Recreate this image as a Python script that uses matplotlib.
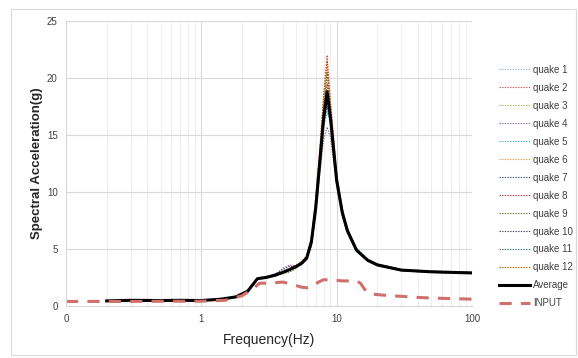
import matplotlib
matplotlib.use("Agg")
from matplotlib import pyplot as plt
from matplotlib.patches import Rectangle
from matplotlib.ticker import FixedLocator, NullFormatter, LogLocator

plt.rcParams['font.family'] = ['Liberation Sans', 'DejaVu Sans']

freq = [0.2, 0.3, 0.5, 0.7, 1.0, 1.4, 1.8, 2.2, 2.6, 3.0, 3.5, 4.0, 4.5, 5.0, 5.5, 6.0,
        6.5, 7.0, 7.5, 8.0, 8.5, 9.0, 10, 11, 12, 14, 17, 20, 30, 50, 100]

quakes = {
    'quake 1': [0.44, 0.51, 0.47, 0.5, 0.47, 0.6, 0.82, 1.3, 2.3, 2.5, 2.6, 2.9, 3.3, 3.4, 3.7, 4.1, 5.4, 8.2, 11.8, 15.5, 17.5, 15.8, 11.2, 8.4, 6.8, 5.0, 4.1, 3.6, 3.1, 2.95, 2.85],
    'quake 2': [0.46, 0.5, 0.49, 0.52, 0.5, 0.62, 0.8, 1.35, 2.45, 2.6, 2.8, 3.0, 3.3, 3.6, 3.9, 4.4, 6.0, 9.4, 13.8, 18.5, 22.0, 18.0, 11.6, 8.5, 6.8, 5.0, 4.1, 3.7, 3.2, 3.05, 2.95],
    'quake 3': [0.45, 0.5, 0.48, 0.5, 0.49, 0.6, 0.8, 1.3, 2.4, 2.5, 2.7, 2.8, 3.0, 3.3, 3.8, 4.3, 5.8, 8.9, 13.0, 17.5, 20.5, 17.0, 11.0, 8.1, 6.5, 4.8, 3.95, 3.55, 3.1, 2.95, 2.9],
    'quake 4': [0.44, 0.49, 0.47, 0.49, 0.47, 0.58, 0.78, 1.25, 2.35, 2.45, 2.75, 3.3, 3.6, 3.5, 3.6, 4.0, 5.2, 8.0, 11.5, 14.5, 15.7, 14.8, 10.6, 7.9, 6.4, 4.8, 3.95, 3.55, 3.1, 2.95, 2.85],
    'quake 5': [0.45, 0.5, 0.48, 0.5, 0.48, 0.6, 0.8, 1.3, 2.4, 2.5, 2.6, 2.9, 3.1, 3.4, 3.7, 4.1, 5.4, 8.3, 12.0, 15.8, 17.0, 16.2, 11.5, 8.6, 6.9, 5.1, 4.1, 3.7, 3.2, 3.0, 2.9],
    'quake 6': [0.46, 0.51, 0.49, 0.51, 0.49, 0.61, 0.82, 1.32, 2.45, 2.55, 2.75, 3.0, 3.25, 3.5, 3.9, 4.4, 5.9, 9.2, 13.3, 17.8, 21.0, 17.5, 11.4, 8.5, 6.8, 5.0, 4.1, 3.7, 3.2, 3.05, 2.95],
    'quake 7': [0.45, 0.5, 0.48, 0.5, 0.48, 0.6, 0.8, 1.3, 2.4, 2.5, 2.7, 2.95, 3.2, 3.45, 3.75, 4.2, 5.6, 8.6, 12.5, 16.3, 18.5, 16.4, 11.0, 8.2, 6.6, 4.9, 4.0, 3.6, 3.15, 3.0, 2.9],
    'quake 8': [0.45, 0.5, 0.48, 0.5, 0.48, 0.6, 0.8, 1.3, 2.4, 2.55, 2.7, 3.0, 3.2, 3.5, 3.8, 4.3, 5.7, 8.8, 12.8, 17.0, 19.5, 16.8, 11.1, 8.2, 6.6, 4.9, 4.0, 3.6, 3.15, 3.0, 2.9],
    'quake 9': [0.45, 0.5, 0.48, 0.5, 0.48, 0.6, 0.8, 1.3, 2.4, 2.5, 2.65, 2.85, 3.0, 3.3, 3.7, 4.2, 5.7, 8.9, 13.0, 17.4, 20.5, 17.2, 11.2, 8.3, 6.6, 4.9, 4.0, 3.6, 3.15, 3.0, 2.9],
    'quake 10': [0.44, 0.5, 0.47, 0.5, 0.48, 0.6, 0.79, 1.28, 2.38, 2.48, 2.8, 3.2, 3.5, 3.4, 3.65, 4.1, 5.5, 8.5, 12.3, 16.0, 18.0, 16.0, 10.9, 8.1, 6.5, 4.85, 3.95, 3.55, 3.1, 2.95, 2.9],
    'quake 11': [0.45, 0.5, 0.48, 0.5, 0.48, 0.6, 0.8, 1.3, 2.4, 2.5, 2.7, 2.95, 3.2, 3.45, 3.7, 4.1, 5.4, 8.3, 12.0, 15.9, 17.5, 16.0, 11.1, 8.3, 6.7, 4.95, 4.05, 3.65, 3.15, 3.0, 2.9],
    'quake 12': [0.46, 0.5, 0.49, 0.51, 0.49, 0.61, 0.81, 1.32, 2.42, 2.55, 2.75, 3.0, 3.3, 3.55, 3.85, 4.35, 5.9, 9.3, 13.6, 18.2, 21.5, 17.8, 11.5, 8.4, 6.7, 4.95, 4.05, 3.65, 3.2, 3.05, 2.95],
}
quake_colors = ['#8EB4E3', '#D9534F', '#9BBB59', '#8064A2', '#4BACC6', '#F79646',
                '#2C4D75', '#943634', '#5F7530', '#4D3B62', '#276A7C', '#B65708']

average = [0.45, 0.5, 0.48, 0.5, 0.48, 0.6, 0.8, 1.3, 2.4, 2.5, 2.7, 2.95, 3.2, 3.45, 3.75, 4.2,
           5.6, 8.6, 12.6, 16.4, 18.8, 16.5, 11.0, 8.2, 6.6, 4.9, 4.0, 3.6, 3.15, 3.0, 2.9]

inp_freq = [0.1, 0.3, 0.5, 1.0, 1.5, 2.0, 2.4, 2.7, 3.0, 3.5, 4.0, 4.5, 5.0, 5.5, 6.0, 6.5, 7.0,
            7.5, 8.0, 9.0, 10, 11, 12, 13, 14, 15, 16, 17, 18, 20, 25, 30, 40, 50, 70, 100]
inp_vals = [0.4, 0.4, 0.42, 0.42, 0.5, 0.9, 1.5, 2.0, 2.0, 2.05, 2.1, 1.95, 1.8, 1.65, 1.6, 1.7, 1.95,
            2.15, 2.3, 2.3, 2.25, 2.2, 2.2, 2.15, 2.2, 2.0, 1.5, 1.2, 1.05, 1.0, 0.9, 0.85, 0.75, 0.7, 0.65, 0.6]

fig = plt.figure(figsize=(5.78, 3.58), dpi=100)
ax = fig.add_axes([66/578, 1-306/358, (472-66)/578, (306-21)/358])

# chart border like excel
fig.patches.append(Rectangle((11/578, 3/358), 565/578, 346/358, transform=fig.transFigure,
                             fill=False, edgecolor='#D9D9D9', lw=0.8))

for (name, vals), c in zip(quakes.items(), quake_colors):
    ax.plot(freq, vals, color=c, lw=0.8, dashes=(1.2, 1.2), label=name)
ax.plot(freq, average, color='black', lw=2.2, label='Average')
ax.plot(inp_freq, inp_vals, color='#D0706D', lw=2.2, dashes=(4, 3), label='INPUT')

ax.set_xscale('log')
ax.set_xlim(0.1, 100)
ax.set_ylim(0, 25)
ax.set_yticks([0, 5, 10, 15, 20, 25])
ax.xaxis.set_major_locator(FixedLocator([0.1, 1, 10, 100]))
ax.set_xticklabels(['0', '1', '10', '100'])
ax.xaxis.set_minor_locator(LogLocator(base=10, subs=range(2, 10)))
ax.xaxis.set_minor_formatter(NullFormatter())

ax.grid(True, which='major', color='#D9D9D9', lw=0.8)
ax.grid(True, which='minor', axis='x', color='#EDEDED', lw=0.6)
ax.set_axisbelow(True)
ax.tick_params(which='both', length=0, labelsize=7, colors='#404040', pad=6)
for s in ['top', 'right']:
    ax.spines[s].set_visible(False)
for s in ['left', 'bottom']:
    ax.spines[s].set_color('#D9D9D9')

ax.set_xlabel('Frequency(Hz)', fontsize=10, color='#262626', labelpad=6)
ax.set_ylabel('Spectral Acceleration(g)', fontsize=9.5, fontweight='bold', color='#262626', labelpad=3)

fig.legend(loc='upper left', bbox_to_anchor=(490/578, 1-56/358), frameon=False, fontsize=7,
           handlelength=3.2, labelspacing=0.82, handletextpad=0.3, labelcolor='#404040')

fig.savefig('out.png', dpi=100)
